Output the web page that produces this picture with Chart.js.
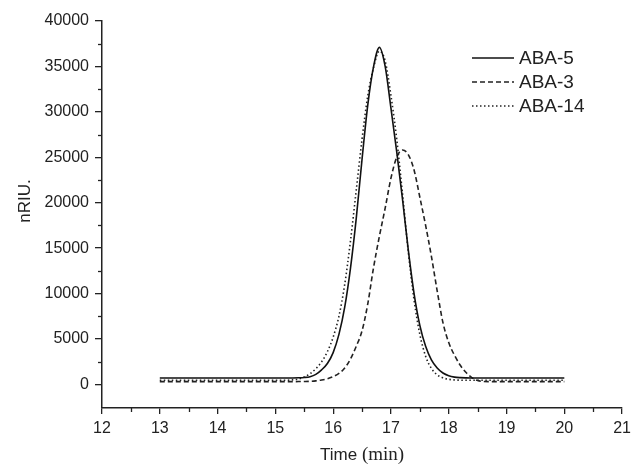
<!DOCTYPE html>
<html>
<head>
<meta charset="utf-8">
<script src="https://cdn.jsdelivr.net/npm/chart.js@4.4.0/dist/chart.umd.min.js"></script>
<style>
  html, body { margin: 0; padding: 0; background: #fff; }
  #wrap { width: 636px; height: 468px; position: relative; }
</style>
</head>
<body>
<div id="wrap"><canvas id="chart"></canvas></div>
<script>
// retention time (min), shared by all three traces
const times = [13, 14, 15, 15.1, 15.2, 15.3, 15.4, 15.5, 15.6, 15.7, 15.8, 15.9,
  16, 16.1, 16.2, 16.3, 16.4, 16.5, 16.6, 16.7, 16.8, 16.9,
  17, 17.1, 17.2, 17.3, 17.4, 17.5, 17.6, 17.7, 17.8, 17.9,
  18, 18.1, 18.2, 18.3, 18.4, 18.5, 18.6, 18.7, 19, 20];

// nRIU signal
const aba5 = [700, 700, 700, 700, 705, 710, 725, 760, 850, 1100, 1600, 2300,
  3500, 5500, 8500, 12800, 18300, 24800, 30800, 35000, 37100, 35000,
  30400, 25600, 20400, 14800, 10000, 6500, 4200, 2700, 1800, 1250,
  950, 800, 740, 715, 705, 700, 700, 700, 700, 700];
const aba3 = [300, 300, 300, 300, 300, 305, 310, 320, 340, 390, 480, 620,
  850, 1200, 1800, 2800, 4200, 5900, 8900, 12900, 16300, 19400,
  22700, 25000, 25800, 25300, 23600, 20600, 17500, 14100, 10300, 6800,
  4600, 3200, 2100, 1300, 750, 420, 320, 300, 300, 300];
const aba14 = [450, 450, 450, 455, 460, 500, 600, 820, 1180, 1720, 2480, 3600,
  5200, 7500, 11000, 15800, 21400, 27000, 31800, 34900, 36700, 35600,
  31800, 27000, 21000, 14600, 9300, 5500, 3100, 1750, 1050, 720,
  560, 490, 460, 450, 450, 450, 450, 450, 450, 450];

const seriesNames = ["ABA-5", "ABA-3", "ABA-14"];
const yTicks = [0, 5000, 10000, 15000, 20000, 25000, 30000, 35000, 40000];
const yMinorTicks = [2500, 7500, 12500, 17500, 22500, 27500, 32500, 37500];
const xTicks = [12, 13, 14, 15, 16, 17, 18, 19, 20, 21];
const xMinorTicks = [12.5, 13.5, 14.5, 15.5, 16.5, 17.5, 18.5, 19.5, 20.5];

const ink = "#222";
const sans = '"Liberation Sans", Arial, sans-serif';
const serif = '"Liberation Serif", "Times New Roman", serif';

Chart.defaults.font.family = sans;
Chart.defaults.color = ink;

function pts(values) {
  return times.map((t, i) => ({ x: t, y: values[i] }));
}

// minor ticks, axis titles and the in-plot legend
const extras = {
  id: "extras",
  afterDraw(chart) {
    const { ctx, chartArea, scales } = chart;
    const x = scales.x, y = scales.y;
    ctx.save();
    ctx.strokeStyle = ink;
    ctx.lineWidth = 1.3;
    yMinorTicks.forEach((v) => {
      const py = Math.round(y.getPixelForValue(v)) + 0.5;
      ctx.beginPath();
      ctx.moveTo(chartArea.left - 4, py);
      ctx.lineTo(chartArea.left, py);
      ctx.stroke();
    });
    xMinorTicks.forEach((v) => {
      const px = Math.round(x.getPixelForValue(v)) + 0.5;
      ctx.beginPath();
      ctx.moveTo(px, chartArea.bottom);
      ctx.lineTo(px, chartArea.bottom + 4);
      ctx.stroke();
    });

    ctx.fillStyle = ink;
    // y title
    ctx.save();
    ctx.translate(25, 201);
    ctx.rotate(-Math.PI / 2);
    ctx.font = "17px " + sans;
    ctx.textAlign = "center";
    ctx.textBaseline = "middle";
    ctx.fillText("nRIU.", 0, 0);
    ctx.restore();

    // x title: "Time" in sans, "(min)" in serif
    const a = "Time ", b = "(min)";
    ctx.textBaseline = "alphabetic";
    ctx.textAlign = "left";
    ctx.font = "17px " + sans;
    const wa = ctx.measureText(a).width;
    ctx.font = "19px " + serif;
    const wb = ctx.measureText(b).width;
    const cx = (chartArea.left + chartArea.right) / 2;
    const x0 = cx - (wa + wb) / 2;
    ctx.font = "17px " + sans;
    ctx.fillText(a, x0, 460);
    ctx.font = "19px " + serif;
    ctx.fillText(b, x0 + wa, 460);

    // legend
    ctx.font = "19px " + sans;
    ctx.textBaseline = "middle";
    chart.data.datasets.forEach((ds, i) => {
      const ly = 58 + 24 * i;
      ctx.save();
      ctx.strokeStyle = ds.borderColor;
      ctx.lineWidth = ds.borderWidth;
      ctx.setLineDash(ds.borderDash || []);
      ctx.beginPath();
      ctx.moveTo(472, ly);
      ctx.lineTo(514, ly);
      ctx.stroke();
      ctx.restore();
      ctx.fillText(ds.label, 519, ly + 1);
    });
    ctx.restore();
  }
};

new Chart(document.getElementById("chart"), {
  type: "line",
  data: {
    datasets: [
      { label: seriesNames[0], data: pts(aba5), borderColor: "#111", borderWidth: 1.6, borderDash: [] },
      { label: seriesNames[1], data: pts(aba3), borderColor: "#222", borderWidth: 1.6, borderDash: [5, 3] },
      { label: seriesNames[2], data: pts(aba14), borderColor: "#222", borderWidth: 1.6, borderDash: [1.5, 2.5] }
    ]
  },
  options: {
    responsive: true,
    maintainAspectRatio: false,
    animation: false,
    layout: { padding: { top: 21, right: 10, bottom: 0, left: 0 } },
    elements: {
      point: { radius: 0, hoverRadius: 0 },
      line: { fill: false, cubicInterpolationMode: "monotone" }
    },
    plugins: { legend: { display: false }, tooltip: { enabled: false } },
    scales: {
      x: {
        type: "linear",
        min: 12,
        max: 21,
        afterBuildTicks: (s) => { s.ticks = xTicks.map((v) => ({ value: v })); },
        afterFit: (s) => { s.height = 60; },
        ticks: { font: { size: 16 }, padding: 5, color: ink, maxRotation: 0 },
        grid: { drawOnChartArea: false, drawTicks: true, tickLength: 6, color: ink, lineWidth: 1.3 },
        border: { display: true, color: ink, width: 1.5 }
      },
      y: {
        type: "linear",
        min: -2600,
        max: 40000,
        afterBuildTicks: (s) => { s.ticks = yTicks.map((v) => ({ value: v })); },
        afterFit: (s) => { s.width = 102; },
        ticks: { font: { size: 16 }, padding: 6, color: ink, callback: (v) => String(v) },
        grid: { drawOnChartArea: false, drawTicks: true, tickLength: 7, color: ink, lineWidth: 1.3 },
        border: { display: true, color: ink, width: 1.5 }
      }
    }
  },
  plugins: [extras]
});
</script>
</body>
</html>
